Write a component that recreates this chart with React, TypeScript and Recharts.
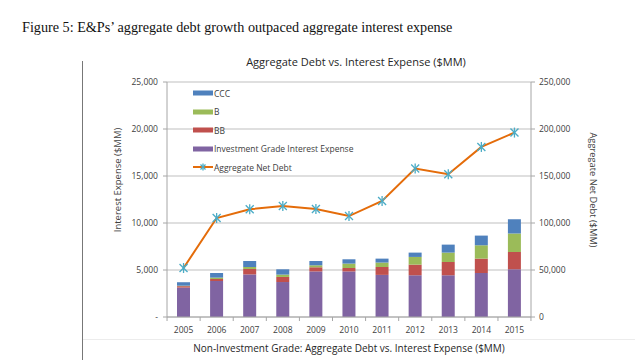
import React from "react";
import {
  ComposedChart,
  Bar,
  Line,
  XAxis,
  YAxis,
  CartesianGrid,
  Legend,
} from "recharts";

const years = ["2005", "2006", "2007", "2008", "2009", "2010", "2011", "2012", "2013", "2014", "2015"];
const investmentGrade = [3130, 3830, 4530, 3720, 4850, 4850, 4480, 4440, 4440, 4680, 5075];
const bb = [150, 210, 580, 540, 440, 360, 840, 1130, 1410, 1530, 1845];
const bRated = [50, 150, 210, 250, 210, 470, 470, 820, 1000, 1420, 1950];
const ccc = [370, 490, 640, 565, 460, 460, 420, 460, 850, 1030, 1530];
const netDebt = [52100, 105300, 114600, 118100, 114900, 107400, 123400, 157900, 151800, 180900, 196200];

const leftTicks = [0, 5000, 10000, 15000, 20000, 25000];
const rightTicks = [0, 50000, 100000, 150000, 200000, 250000];

const data = years.map((year, i) => ({
  year,
  ig: investmentGrade[i],
  bb: bb[i],
  b: bRated[i],
  ccc: ccc[i],
  debt: netDebt[i],
}));

const C_IG = "#8064A2";
const C_BB = "#C0504D";
const C_B = "#9BBB59";
const C_CCC = "#4F81BD";
const C_LINE = "#E46C0A";
const C_MARK = "#4BACC6";
const AXIS = "#A6A6A6";
const TXT = "#404040";
const FONT = "'Open Sans', sans-serif";
const HALF_BAND = 16.5;

const Star = ({ cx, cy, r = 4 }: { cx: number; cy: number; r?: number }) => (
  <g stroke={C_MARK} strokeWidth={1.3}>
    <line x1={cx - r} y1={cy - r} x2={cx + r} y2={cy + r} />
    <line x1={cx - r} y1={cy + r} x2={cx + r} y2={cy - r} />
    <line x1={cx} y1={cy - r - 1} x2={cx} y2={cy + r + 1} />
  </g>
);

const XTick = (props: any) => {
  const { x, y, payload, index } = props;
  return (
    <g>
      <line x1={x - HALF_BAND} y1={y} x2={x - HALF_BAND} y2={y + 4} stroke={AXIS} />
      {index === years.length - 1 && (
        <line x1={x + HALF_BAND} y1={y} x2={x + HALF_BAND} y2={y + 4} stroke={AXIS} />
      )}
      <text x={x} y={y + 16} textAnchor="middle" fontSize={8.5} fill={TXT} fontFamily={FONT}>
        {payload.value}
      </text>
    </g>
  );
};

const legendItems = [
  { label: "CCC", color: C_CCC, type: "bar" },
  { label: "B", color: C_B, type: "bar" },
  { label: "BB", color: C_BB, type: "bar" },
  { label: "Investment Grade Interest Expense", color: C_IG, type: "bar" },
  { label: "Aggregate Net Debt", color: C_LINE, type: "line" },
];

const LegendContent = () => (
  <div style={{ fontFamily: FONT, fontSize: 8.5, color: TXT }}>
    {legendItems.map((it) => (
      <div key={it.label} style={{ display: "flex", alignItems: "center", height: 18.5 }}>
        <svg width={20} height={10} style={{ marginRight: 1 }}>
          {it.type === "bar" ? (
            <rect x={0} y={2.5} width={20} height={5} fill={it.color} />
          ) : (
            <g>
              <line x1={0} y1={5} x2={20} y2={5} stroke={it.color} strokeWidth={2} />
              <Star cx={10} cy={5} r={2.5} />
            </g>
          )}
        </svg>
        <span style={{ whiteSpace: "nowrap" }}>{it.label}</span>
      </div>
    ))}
  </div>
);

const fmtLeft = (v: number) => (v === 0 ? "-" : v.toLocaleString("en-US"));
const fmtRight = (v: number) => v.toLocaleString("en-US");

export default function App() {
  return (
    <div style={{ position: "absolute", left: 0, top: 0, width: 640, height: 360, background: "#fff", overflow: "hidden" }}>
      <div
        style={{
          position: "absolute",
          left: 22,
          top: 19,
          fontFamily: "'Liberation Serif', serif",
          fontSize: 14.2,
          color: "#111",
          whiteSpace: "nowrap",
        }}
      >
        Figure 5: E&amp;Ps’ aggregate debt growth outpaced aggregate interest expense
      </div>
      <div style={{ position: "absolute", left: 82, top: 61, width: 1, height: 299, background: "#777" }} />
      <div style={{ position: "absolute", left: 83, top: 339, width: 552, height: 1, background: "#ececec" }} />
      <div
        style={{
          position: "absolute",
          left: 0,
          width: 712,
          top: 54,
          textAlign: "center",
          fontFamily: FONT,
          fontSize: 11,
          color: "#262626",
          whiteSpace: "nowrap",
        }}
      >
        Aggregate Debt vs. Interest Expense ($MM)
      </div>
      <div
        style={{
          position: "absolute",
          left: 116.5,
          top: 180,
          transform: "translate(-50%, -50%) rotate(-90deg)",
          fontFamily: FONT,
          fontSize: 9.5,
          color: TXT,
          whiteSpace: "nowrap",
        }}
      >
        Interest Expense ($MM)
      </div>
      <div
        style={{
          position: "absolute",
          left: 593,
          top: 190,
          transform: "translate(-50%, -50%) rotate(90deg)",
          fontFamily: FONT,
          fontSize: 9.3,
          color: TXT,
          whiteSpace: "nowrap",
        }}
      >
        Aggregate Net Debt ($MM)
      </div>
      <div
        style={{
          position: "absolute",
          left: 0,
          width: 698,
          top: 341,
          textAlign: "center",
          fontFamily: FONT,
          fontSize: 10,
          color: "#262626",
          whiteSpace: "nowrap",
        }}
      >
        Non-Investment Grade: Aggregate Debt vs. Interest Expense ($MM)
      </div>
      <div style={{ position: "absolute", left: 0, top: 0 }}>
        <ComposedChart
          width={640}
          height={360}
          data={data}
          margin={{ top: 82, right: 49, bottom: 13, left: 107 }}
          barCategoryGap={0}
        >
          <CartesianGrid horizontal vertical={false} stroke="#BFBFBF" yAxisId="left" />
          <XAxis
            dataKey="year"
            height={30}
            stroke={AXIS}
            tickLine={false}
            tickSize={0}
            tickMargin={0}
            tick={<XTick />}
            interval={0}
          />
          <YAxis
            yAxisId="left"
            orientation="left"
            width={60}
            domain={[0, 25000]}
            ticks={leftTicks}
            tickFormatter={fmtLeft}
            stroke={AXIS}
            tickSize={4}
            tickMargin={5}
            tick={{ fontSize: 8.5, fill: TXT, fontFamily: FONT }}
            interval={0}
          />
          <YAxis
            yAxisId="right"
            orientation="right"
            width={60}
            domain={[0, 250000]}
            ticks={rightTicks}
            tickFormatter={fmtRight}
            stroke={AXIS}
            tickSize={4}
            tickMargin={4}
            tick={{ fontSize: 8.5, fill: TXT, fontFamily: FONT, textAnchor: "start" }}
            interval={0}
          />
          <Legend
            layout="vertical"
            align="center"
            verticalAlign="middle"
            content={<LegendContent />}
            wrapperStyle={{ position: "absolute", left: 193, top: 84, width: 220, height: 95 }}
          />
          <Bar yAxisId="left" dataKey="ig" stackId="s" fill={C_IG} barSize={13} isAnimationActive={false} />
          <Bar yAxisId="left" dataKey="bb" stackId="s" fill={C_BB} barSize={13} isAnimationActive={false} />
          <Bar yAxisId="left" dataKey="b" stackId="s" fill={C_B} barSize={13} isAnimationActive={false} />
          <Bar yAxisId="left" dataKey="ccc" stackId="s" fill={C_CCC} barSize={13} isAnimationActive={false} />
          <Line
            yAxisId="right"
            dataKey="debt"
            stroke={C_LINE}
            strokeWidth={2}
            isAnimationActive={false}
            dot={(p: any) => <Star key={`d${p.index}`} cx={p.cx} cy={p.cy} />}
            activeDot={false}
          />
        </ComposedChart>
      </div>
    </div>
  );
}
